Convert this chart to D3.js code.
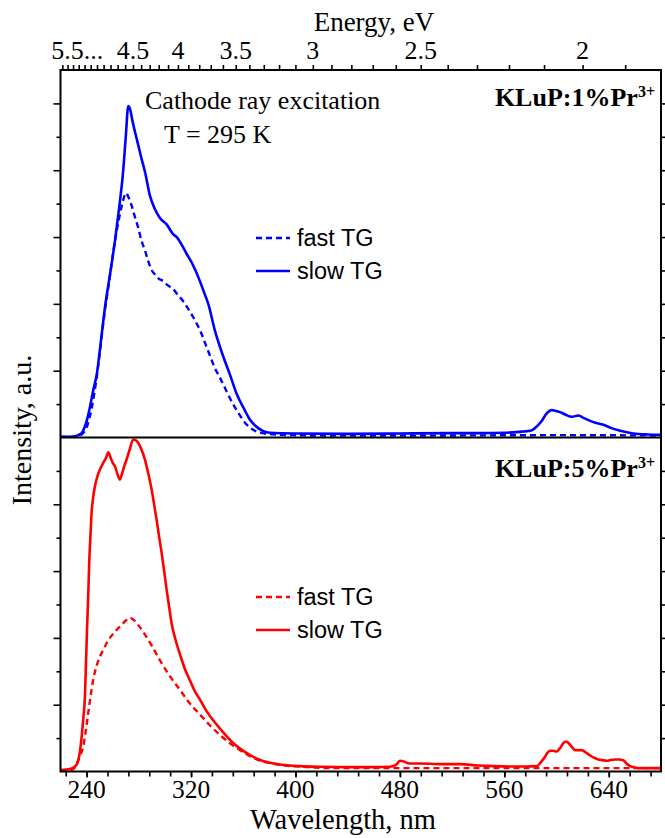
<!DOCTYPE html>
<html><head><meta charset="utf-8">
<script src="https://cdn.jsdelivr.net/npm/d3@7/dist/d3.min.js"></script>
<style>
html,body{margin:0;padding:0;background:#fff;}
svg{display:block;}
</style></head>
<body>
<svg id="chart" width="665" height="838"></svg>
<script>
// ---------- DATA (wavelength nm, intensity a.u.) ----------
const topSlow = [[220,0.01],[226,0.01],[231,0.02],[234,0.04],[236.4,0.07],[238,0.13],[239.5,0.21],[241,0.32],[242.5,0.45],[245,0.7],[247.9,0.96],[251,1.45],[254,1.94],[258,2.45],[261.7,2.94],[265,3.45],[267.8,3.94],[270,4.5],[271.9,4.96],[273.5,4.9],[275,4.75],[277,4.58],[279.5,4.38],[282,4.18],[285,3.95],[288.5,3.62],[292.3,3.42],[296,3.29],[301.3,3.19],[306.4,3.04],[309,3.0],[313,2.88],[316.6,2.75],[321,2.6],[326.8,2.34],[330,2.17],[333.2,2.0],[338.3,1.6],[344,1.25],[350,0.93],[355,0.65],[361.4,0.4],[365,0.27],[369,0.18],[375,0.1],[380.5,0.07],[400,0.06],[440,0.055],[480,0.06],[520,0.065],[541.5,0.065],[560,0.07],[574.6,0.09],[580,0.1],[584,0.15],[588.7,0.25],[592,0.35],[596.3,0.41],[599,0.4],[602.7,0.38],[607,0.34],[611.7,0.31],[616.7,0.33],[621,0.29],[628.2,0.23],[636,0.19],[642,0.14],[648.7,0.1],[658.7,0.06],[670,0.045],[680,0.04]];
const topFast = [[220,0.01],[230,0.01],[235,0.03],[238,0.08],[240,0.15],[242,0.28],[244,0.45],[247,0.8],[250,1.25],[253,1.75],[257,2.3],[261.7,2.94],[265.5,3.34],[268,3.55],[270.1,3.66],[272,3.6],[274.5,3.47],[277,3.3],[279.5,3.14],[282.1,2.94],[284.7,2.8],[287.2,2.64],[290,2.5],[292.3,2.44],[295,2.38],[298.7,2.34],[302,2.28],[306.4,2.22],[310,2.13],[314,2.04],[318,1.92],[321.7,1.8],[325,1.68],[328.1,1.55],[331,1.4],[334.6,1.22],[338,1.05],[342,0.9],[346,0.74],[350,0.58],[354,0.44],[357.5,0.33],[361,0.23],[365,0.15],[370,0.09],[376.6,0.06],[390,0.04],[420,0.03],[500,0.03],[600,0.035],[680,0.03]];
const bottomSlow = [[220,0.02],[228,0.04],[232.3,0.1],[234.5,0.25],[236.2,0.52],[237.5,0.8],[238.7,1.12],[239.5,1.6],[240.3,2.12],[241.2,2.6],[242,3.13],[243,3.55],[243.8,3.87],[245,4.1],[246.4,4.27],[248,4.4],[250.2,4.52],[253,4.63],[255,4.7],[256.6,4.78],[258,4.72],[260,4.62],[261.7,4.57],[263.5,4.46],[265.5,4.37],[267,4.45],[268.5,4.55],[270.6,4.67],[273,4.82],[275.7,4.97],[277.5,4.96],[279.5,4.92],[282,4.82],[284.7,4.67],[287,4.48],[289.8,4.22],[291.7,4.0],[293.6,3.77],[295.5,3.52],[297.5,3.27],[299.4,3.0],[301.3,2.72],[303.2,2.47],[305.1,2.22],[308,1.98],[311.6,1.75],[315,1.55],[319,1.37],[323,1.2],[327,1.07],[332,0.9],[338,0.74],[344,0.6],[350,0.47],[357,0.35],[365,0.25],[372,0.18],[380.5,0.13],[390,0.1],[403.5,0.08],[420,0.07],[440,0.065],[460,0.065],[472,0.07],[477,0.1],[480,0.16],[483,0.15],[487,0.12],[495,0.12],[510,0.11],[526,0.11],[540,0.09],[551.6,0.08],[565,0.075],[577,0.075],[584.8,0.08],[588,0.14],[591.2,0.22],[593,0.28],[595,0.31],[597.5,0.31],[600.2,0.3],[603,0.36],[605.5,0.43],[607.3,0.45],[609.5,0.42],[612,0.36],[614.2,0.32],[617,0.32],[619.3,0.32],[622,0.29],[625,0.25],[628.2,0.21],[632,0.18],[635,0.17],[638.5,0.16],[641,0.17],[644.8,0.18],[648,0.18],[651.2,0.17],[653.5,0.12],[656.4,0.08],[660,0.06],[664,0.05],[672,0.05],[680,0.05]];
const bottomFast = [[220,0.01],[228,0.02],[231,0.06],[233.6,0.17],[235.5,0.26],[237.4,0.37],[239.3,0.6],[241.2,0.87],[243,1.12],[245,1.37],[247.5,1.57],[250.2,1.72],[253,1.83],[255.3,1.92],[259,2.03],[263,2.12],[267,2.2],[270,2.26],[273.2,2.3],[276,2.27],[280,2.18],[284.7,2.05],[290,1.88],[296,1.67],[303,1.45],[311.6,1.22],[319,1.02],[327,0.85],[334,0.7],[342,0.55],[350,0.42],[357.5,0.32],[365,0.23],[373,0.16],[382,0.12],[392,0.09],[405,0.07],[430,0.05],[500,0.05],[600,0.05],[680,0.05]];

const wlTicks = [240, 320, 400, 480, 560, 640];
const energyLabels = [5.5, 4.5, 4, 3.5, 3, 2.5, 2];
const yMajor = [1, 2, 3, 4, 5];
const yMinor = [0.5, 1.5, 2.5, 3.5, 4.5];
const legendLabels = ["fast TG", "slow TG"];

// ---------- LAYOUT ----------
const L = 60.5, R = 661, T = 70, MID = 437.5, B = 771.5;
const serif = "'Liberation Serif','Times New Roman',serif";
const sans = "'Liberation Sans',Arial,sans-serif";
const svg = d3.select("#chart");

const x = d3.scaleLinear().domain([220, 680]).range([L, R]);
const yTop = d3.scaleLinear().domain([0, 5.5]).range([MID, T]);
const yBot = d3.scaleLinear().domain([0, 5]).range([B, MID]);

svg.append("clipPath").attr("id","ct").append("rect")
  .attr("x",L).attr("y",T).attr("width",R-L).attr("height",MID-T);
svg.append("clipPath").attr("id","cb").append("rect")
  .attr("x",L).attr("y",MID).attr("width",R-L).attr("height",B-MID);

function drawLine(data, y, color, dashed, clip){
  const line = d3.line().x(d=>x(d[0])).y(d=>y(d[1])).curve(d3.curveMonotoneX);
  svg.append("path").datum(data)
    .attr("clip-path", `url(#${clip})`)
    .attr("d", line).attr("fill","none")
    .attr("stroke", color).attr("stroke-width", dashed ? 2.4 : 2.6)
    .attr("stroke-dasharray", dashed ? "6,4" : null)
    .attr("stroke-linejoin","round");
}
drawLine(topFast, yTop, "#0000ff", true, "ct");
drawLine(topSlow, yTop, "#0000ff", false, "ct");
drawLine(bottomFast, yBot, "#ff0000", true, "cb");
drawLine(bottomSlow, yBot, "#ff0000", false, "cb");

// ---------- AXES ----------
function styleAxis(g){
  g.selectAll(".domain").remove();
  g.selectAll(".tick line").attr("stroke","#000").attr("stroke-width",1.6);
  g.selectAll("text").remove();
}
// bottom
svg.append("g").attr("transform",`translate(0,${B})`)
  .call(d3.axisBottom(x).tickValues(d3.range(224, 681, 16)).tickSize(5)).call(styleAxis);
svg.append("g").attr("transform",`translate(0,${B})`)
  .call(d3.axisBottom(x).tickValues(wlTicks).tickSize(6)).call(styleAxis);
svg.selectAll(".wl").data(wlTicks).enter().append("text")
  .attr("x", d=>x(d)).attr("y", B+26).attr("text-anchor","middle")
  .attr("font-family", serif).attr("font-size", 25.5).text(d=>d);
svg.append("text").attr("x", 343).attr("y", 829).attr("text-anchor","middle")
  .attr("font-family", serif).attr("font-size", 28.5).text("Wavelength, nm");

// top energy axis
const eMinor = d3.range(19, 57).map(v=>v/10);
svg.append("g").attr("transform",`translate(0,${T})`)
  .call(d3.axisTop(x).tickValues(eMinor.map(e=>1239.84/e)).tickSize(5)).call(styleAxis);
energyLabels.forEach(e=>{
  const t = svg.append("text").attr("x", x(1239.84/e)).attr("y", T-11)
    .attr("text-anchor","middle").attr("font-family", serif).attr("font-size", 26)
    .text(e);
  if (e === 5.5) {
    const w = t.node().getComputedTextLength();
    svg.append("text").attr("x", x(1239.84/e) + w/2).attr("y", T-11)
      .attr("font-family", serif).attr("font-size", 26).text("...");
  }
});
svg.append("text").attr("x", 374).attr("y", 31).attr("text-anchor","middle")
  .attr("font-family", serif).attr("font-size", 27).text("Energy, eV");

// left & right axes
[[yTop,yMajor,yMinor],[yBot,yMajor.filter(v=>v<5),yMinor]].forEach(([y,maj,min])=>{
  svg.append("g").attr("transform",`translate(${L},0)`)
    .call(d3.axisLeft(y).tickValues(maj).tickSize(7)).call(styleAxis);
  svg.append("g").attr("transform",`translate(${L},0)`)
    .call(d3.axisLeft(y).tickValues(min).tickSize(4)).call(styleAxis);
  svg.append("g").attr("transform",`translate(${R},0)`)
    .call(d3.axisRight(y).tickValues(maj).tickSize(5)).call(styleAxis);
  svg.append("g").attr("transform",`translate(${R},0)`)
    .call(d3.axisRight(y).tickValues(min).tickSize(5)).call(styleAxis);
});

// frame
svg.append("rect").attr("x",L).attr("y",T).attr("width",R-L).attr("height",B-T)
  .attr("fill","none").attr("stroke","#000").attr("stroke-width",2);
svg.append("line").attr("x1",L).attr("x2",R).attr("y1",MID).attr("y2",MID)
  .attr("stroke","#000").attr("stroke-width",2);

svg.append("text").attr("transform","translate(31,430) rotate(-90)")
  .attr("text-anchor","middle").attr("font-family", serif).attr("font-size", 28)
  .text("Intensity, a.u.");

// ---------- ANNOTATIONS ----------
svg.append("text").attr("x",145).attr("y",109).attr("font-family",serif).attr("font-size",26)
  .text("Cathode ray excitation");
svg.append("text").attr("x",164).attr("y",143).attr("font-family",serif).attr("font-size",26)
  .text("T = 295 K");

function sample(label, ybase){
  const t = svg.append("text").attr("x",655).attr("y",ybase).attr("text-anchor","end")
    .attr("font-family",serif).attr("font-weight","bold").attr("font-size",26);
  t.append("tspan").text(label);
  t.append("tspan").attr("dy",-9).attr("font-size",16).text("3+");
}
sample("KLuP:1%Pr", 106);
sample("KLuP:5%Pr", 477);

function legend(color, ys){
  ys.forEach((yy,i)=>{
    svg.append("line").attr("x1",256).attr("x2",290).attr("y1",yy).attr("y2",yy)
      .attr("stroke",color).attr("stroke-width",2.6)
      .attr("stroke-dasharray", i===0 ? "6,4" : null);
    svg.append("text").attr("x",297).attr("y",yy+8).attr("font-family",sans)
      .attr("font-size",23.5).text(legendLabels[i]);
  });
}
legend("#0000ff",[238,271]);
legend("#ff0000",[597,630]);
</script>
</body></html>
